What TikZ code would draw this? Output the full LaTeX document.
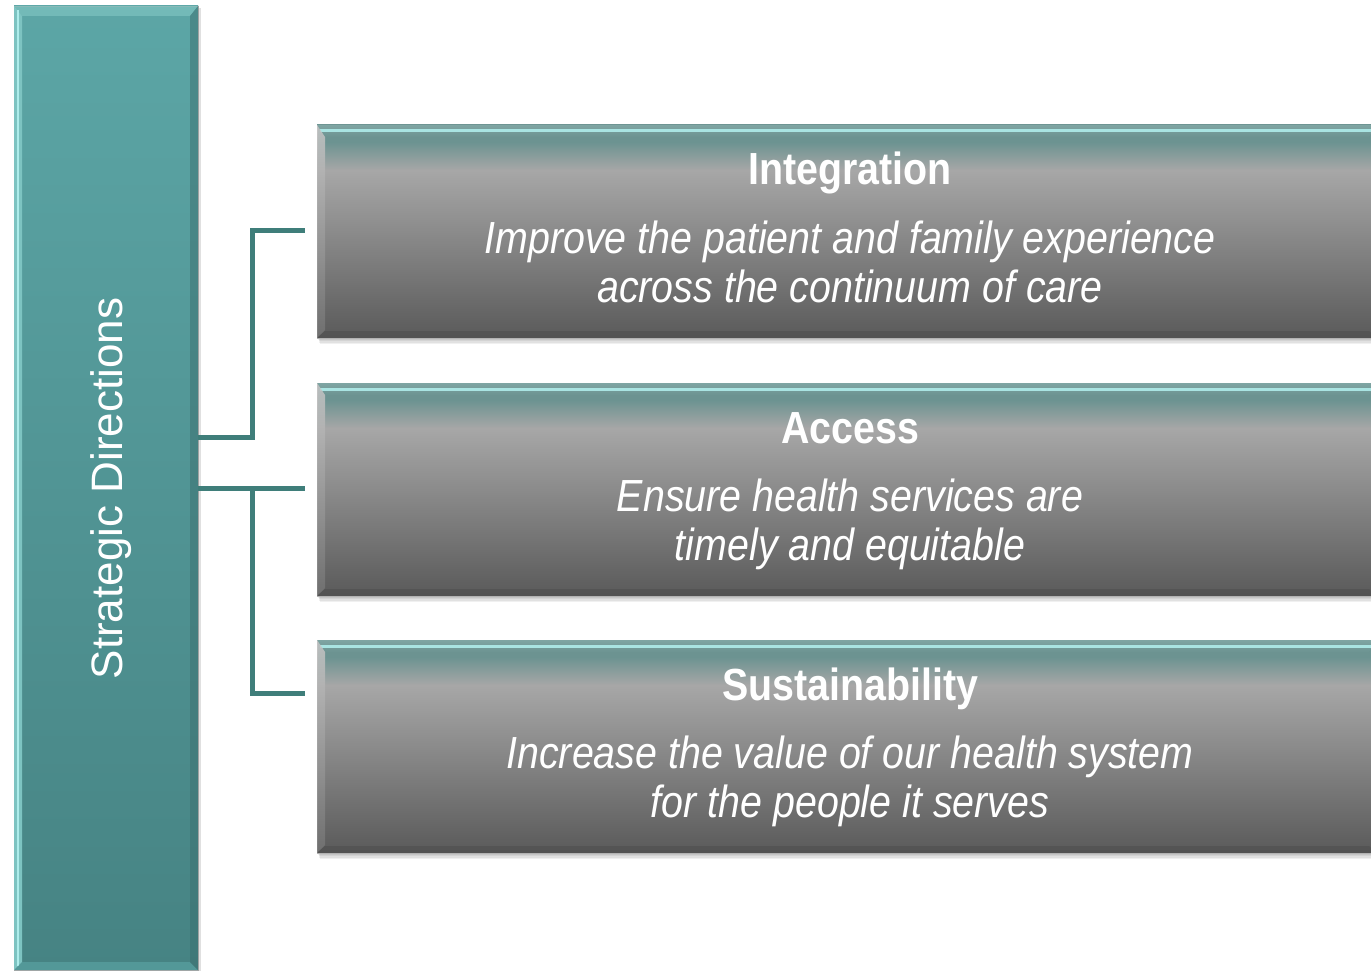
\documentclass[tikz,border=0pt]{standalone}
\usepackage{fontspec}
\setmainfont{Liberation Sans}
\newfontfamily\narrowfont[FakeStretch=0.875]{Liberation Sans}
\usetikzlibrary{calc}

% palette
\definecolor{barTop}{HTML}{5CA6A6}
\definecolor{barBot}{HTML}{468383}
\definecolor{barBevel}{HTML}{7DC3C1}
\definecolor{barShine}{HTML}{AEEDEB}
\definecolor{link}{HTML}{3F7E7A}
\definecolor{pTeal}{HTML}{6C9391}
\definecolor{pEdge}{HTML}{7FA5A3}
\definecolor{pLight}{HTML}{A7A7A7}
\definecolor{pDark}{HTML}{5A5A5A}
\definecolor{pShine}{HTML}{A9E4E2}

% panel body: teal rim at the top, light grey band, darker towards the bottom
\pgfdeclareverticalshading{panelshade}{100bp}{%
  color(0bp)=(pDark); color(25bp)=(pDark); color(64.4bp)=(pLight);
  color(71bp)=(pTeal); color(75bp)=(pTeal); color(100bp)=(pTeal)}

\tikzset{
  panel/.style={rectangle, minimum width=1060pt, minimum height=213pt,
    inner sep=0pt, shading=panelshade, draw=black!25, line width=0.6pt},
  sidebar/.style={rectangle, minimum width=184pt, minimum height=964pt,
    inner sep=0pt, top color=barTop, bottom color=barBot,
    draw=black!35, line width=0.6pt},
  conn/.style={draw=link, line width=5pt, line cap=butt, line join=miter},
  heading/.style={text=white, anchor=base,
    font=\narrowfont\bfseries\fontsize{45}{49}\selectfont},
  blurb/.style={text=white, anchor=base,
    font=\narrowfont\itshape\fontsize{45}{49}\selectfont},
  sidelabel/.style={text=white, anchor=base, rotate=90,
    font=\fontsize{44}{50}\selectfont},
}

% bevelled panel: #1 = node name, #2 = top edge
\newcommand\bevelpanel[2]{%
  \foreach \s in {1,...,4}
    \fill[black, opacity=0.06] (317+\s*0.8,#2+\s*1.6) rectangle (1390,#2+213+\s*1.6);
  \node[panel] (#1) at (847,#2+106.5) {};
  % top rim
  \shade[top color=pEdge, bottom color=pTeal]
    (317,#2) -- (1377,#2) -- (1369,#2+12) -- (325,#2+12) -- cycle;
  \draw[pShine, line width=3pt] (320,#2+6) -- (1374,#2+6);
  % left rim
  \shade[top color=black!22, bottom color=black!55, opacity=0.85]
    (317,#2) -- (325,#2+12) -- (325,#2+205) -- (317,#2+213) -- cycle;
  % bottom rim
  \fill[black!68, opacity=0.8]
    (317,#2+213) -- (325,#2+206) -- (1369,#2+206) -- (1377,#2+213) -- cycle;
}

\begin{document}
\begin{tikzpicture}[x=1pt, y=-1pt]
  \useasboundingbox (0,0) rectangle (1371,971);
  \clip (0,0) rectangle (1371,971);
  \fill[white] (0,0) rectangle (1371,971);

  % left sidebar
  \fill[black, opacity=0.12] (16,8) rectangle (201,975);
  \node[sidebar] (bar) at (106,488) {};
  \fill[barBevel, opacity=0.7] (14,6) -- (198,6) -- (190,16) -- (22,16) -- cycle;
  \fill[barBevel] (14,6) -- (22,16) -- (22,962) -- (14,970) -- cycle;
  \draw[barShine, line width=2.5pt] (18,10) -- (18,966);
  \fill[barTop, opacity=0.6] (14,970) -- (22,962) -- (190,962) -- (198,970) -- cycle;
  \fill[barBot!85!black, opacity=0.5] (198,6) -- (190,16) -- (190,962) -- (198,970) -- cycle;
  \node[sidelabel] (side) at (122,488.5) {Strategic Directions};

  % the three directions
  \bevelpanel{integ}{125}
  \bevelpanel{access}{383}
  \bevelpanel{sustain}{640}

  \node[heading] (h1) at (850,185) {Integration};
  \node[blurb]   (d1a) at (850,253) {Improve the patient and family experience};
  \node[blurb]   (d1b) at (850,302) {across the continuum of care};

  \node[heading] (h2) at (850,443) {Access};
  \node[blurb]   (d2a) at (850,511) {Ensure health services are};
  \node[blurb]   (d2b) at (850,560) {timely and equitable};

  \node[heading] (h3) at (850,700) {Sustainability};
  \node[blurb]   (d3a) at (850,768) {Increase the value of our health system};
  \node[blurb]   (d3b) at (850,817) {for the people it serves};

  % bracket connectors
  \coordinate (up)   at (198,437);
  \coordinate (down) at (198,488);
  \coordinate (e1)   at (252,230);
  \coordinate (e3)   at (252,693);
  \draw[conn, shorten >=12pt] (bar.east |- up) -| (e1) -- (integ.west |- e1);
  \draw[conn, shorten >=12pt] (bar.east |- down) -- (access.west |- down);
  \draw[conn, shorten >=12pt] (e1 |- down) |- (sustain.west |- e3);
\end{tikzpicture}
\end{document}
